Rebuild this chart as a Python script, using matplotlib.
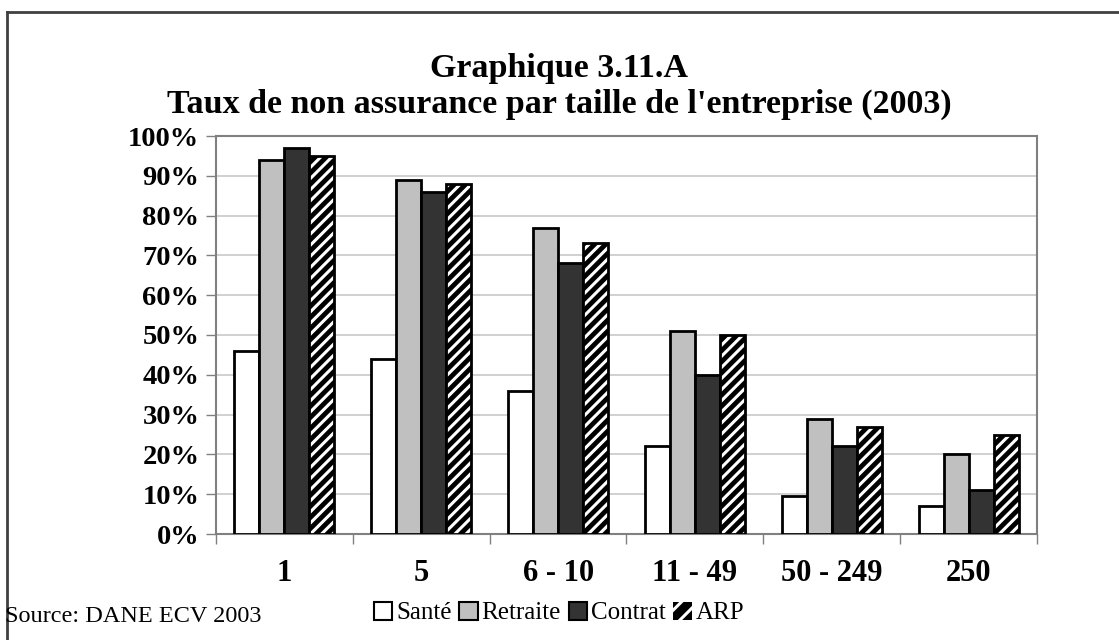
import matplotlib.pyplot as plt
import numpy as np
from matplotlib.lines import Line2D
from matplotlib.patches import Rectangle

# Données (en %)
categories = ['1', '5', '6 - 10', '11 - 49', '50 - 249', '250']
sante = [46, 44, 36, 22, 9.5, 7]
retraite = [94, 89, 77, 51, 29, 20]
contrat = [97, 86, 68, 40, 22, 11]
arp = [95, 88, 73, 50, 27, 25]
series_names = ['Santé', 'Retraite', 'Contrat', 'ARP']

plt.rcParams['font.family'] = ['Liberation Serif', 'DejaVu Serif']
plt.rcParams['hatch.linewidth'] = 2.2

fig = plt.figure(figsize=(11.19, 6.4), dpi=100)
ax = fig.add_axes([216 / 1119, 1 - 534 / 640, (1037 - 216) / 1119, (534 - 136) / 640])

x = np.arange(len(categories))
w = 0.183
offsets = np.array([-1.5, -0.5, 0.5, 1.5]) * w

ax.bar(x + offsets[0], sante, w, color='white', edgecolor='black', linewidth=2, zorder=3)
ax.bar(x + offsets[1], retraite, w, color='#c0c0c0', edgecolor='black', linewidth=2, zorder=3)
ax.bar(x + offsets[2], contrat, w, color='#333333', edgecolor='black', linewidth=2, zorder=3)
# ARP : fond noir + hachures blanches, puis contour noir
ax.bar(x + offsets[3], arp, w, color='black', edgecolor='white', hatch='///', linewidth=0, zorder=3)
ax.bar(x + offsets[3], arp, w, fill=False, edgecolor='black', linewidth=2, zorder=4)

ax.set_xlim(-0.5, len(categories) - 0.5)
ax.set_ylim(0, 100)
ax.set_yticks(np.arange(0, 101, 10))
ax.set_yticklabels([f'{v}%' for v in range(0, 101, 10)], fontsize=20.5, fontweight='bold')
ax.set_xticks(x)
ax.set_xticklabels(categories, fontsize=22, fontweight='bold')
ax.set_xticks(np.arange(-0.5, len(categories)), minor=True)
ax.tick_params(axis='x', which='major', length=0, pad=18)
ax.tick_params(axis='x', which='minor', length=7, width=1, color='#808080', direction='out')
ax.tick_params(axis='y', length=7, width=1, color='#808080', direction='out', pad=5)
ax.yaxis.grid(True, color='#c8c8c8', linewidth=1.2, zorder=0)
ax.set_axisbelow(True)
for s in ax.spines.values():
    s.set_color('#808080')
    s.set_linewidth(1.5)

fig.text(0.5, 1 - 68 / 640, 'Graphique 3.11.A', ha='center', va='center',
         fontsize=24.5, fontweight='bold')
fig.text(0.5, 1 - 104 / 640, "Taux de non assurance par taille de l'entreprise (2003)",
         ha='center', va='center', fontsize=24.5, fontweight='bold')

fig.text(5 / 1119, 1 - 616 / 640, 'Source: DANE ECV 2003', ha='left', va='center', fontsize=17.5)

# Légende
handles = [
    Rectangle((0, 0), 1, 1, facecolor='white', edgecolor='black', linewidth=1.5),
    Rectangle((0, 0), 1, 1, facecolor='#c0c0c0', edgecolor='black', linewidth=1.5),
    Rectangle((0, 0), 1, 1, facecolor='#333333', edgecolor='black', linewidth=1.5),
    Rectangle((0, 0), 1, 1, facecolor='black', edgecolor='white', hatch='//', linewidth=0),
]
leg = fig.legend(handles, series_names, loc='center', bbox_to_anchor=(559 / 1119, 1 - 613 / 640),
                 ncol=4, frameon=False, fontsize=18, handlelength=0.75, handleheight=0.75,
                 handletextpad=0.15, columnspacing=0.3, borderaxespad=0)

# Cadre extérieur (gauche et haut)
fig.add_artist(Line2D([7 / 1119, 7 / 1119], [0, 1 - 12 / 640], color='#404040', linewidth=2,
                      transform=fig.transFigure))
fig.add_artist(Line2D([7 / 1119, 1], [1 - 12 / 640, 1 - 12 / 640], color='#404040', linewidth=2,
                      transform=fig.transFigure))

fig.savefig('out.png', dpi=100)
